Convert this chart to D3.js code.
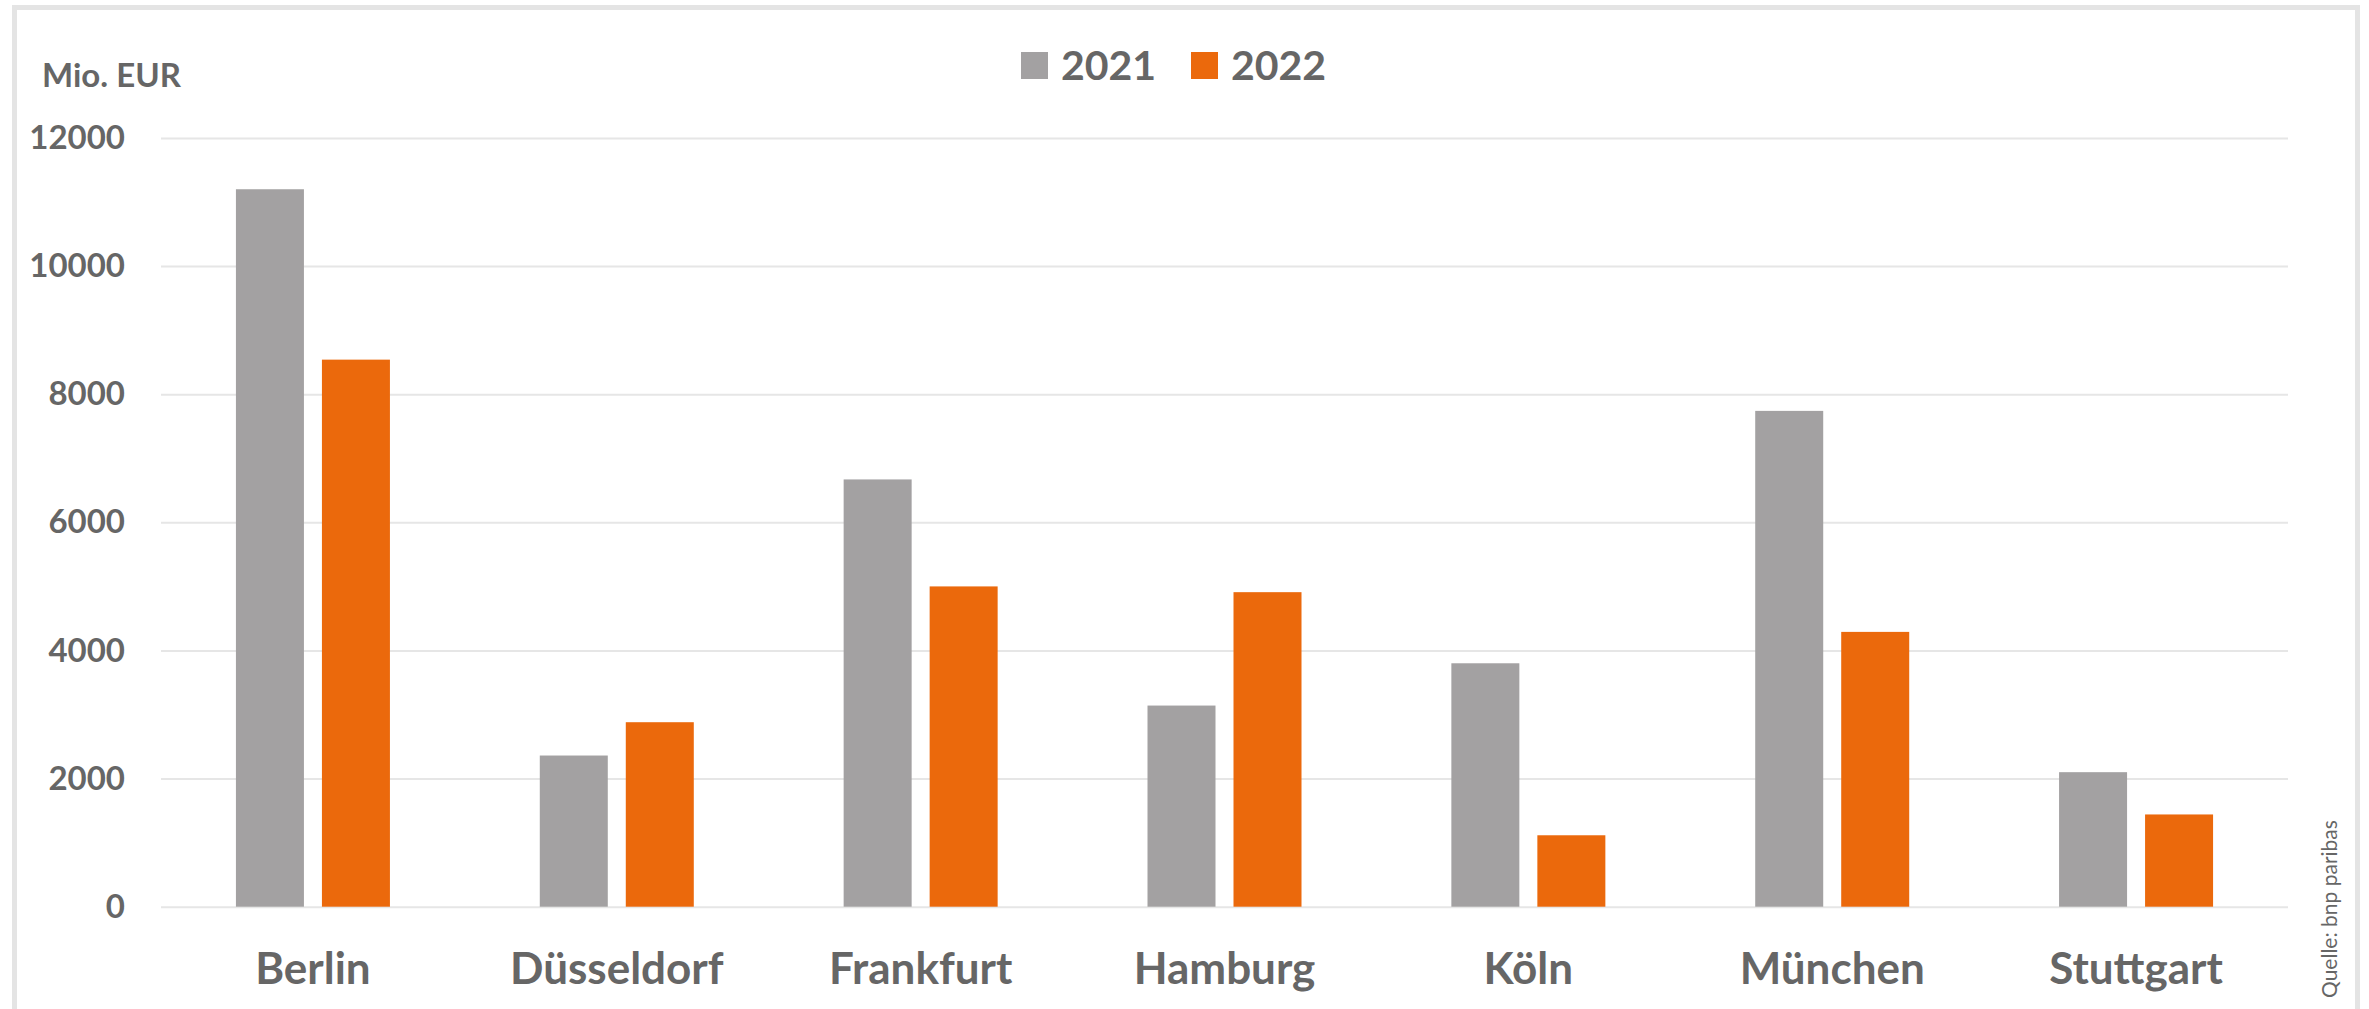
<!DOCTYPE html>
<html>
<head>
<meta charset="utf-8">
<script src="https://cdn.jsdelivr.net/npm/d3@7"></script>
<style>
  body { margin: 0; background: #fff; }
  svg { display: block; }
  text { font-family: Lato, "Open Sans", sans-serif; fill: #666666; }
</style>
</head>
<body>
<svg id="chart" width="2369" height="1009"></svg>
<script>
// data
const categories = ["Berlin", "Düsseldorf", "Frankfurt", "Hamburg", "Köln", "München", "Stuttgart"];
const seriesNames = ["2021", "2022"];
const values2021 = [11200, 2360, 6670, 3140, 3800, 7740, 2100];
const values2022 = [8540, 2880, 5000, 4910, 1115, 4290, 1440];
const yTicks = [0, 2000, 4000, 6000, 8000, 10000, 12000];
const colors = ["#a3a1a2", "#eb690c"];

const plotLeft = 161, plotRight = 2288, plotTop = 138, plotBottom = 906.7;

const svg = d3.select("#chart");

// outer frame
svg.append("rect")
    .attr("x", 14.5).attr("y", 7.5)
    .attr("width", 2343).attr("height", 1100)
    .attr("fill", "none")
    .attr("stroke", "#e4e4e4")
    .attr("stroke-width", 5);

const x = d3.scaleBand().domain(categories).range([plotLeft, plotRight]);
const groupW = 154;
const xs = d3.scaleBand().domain(seriesNames).range([0, groupW]).paddingInner(18 / 86);
const y = d3.scaleLinear().domain([0, 12000]).range([plotBottom, plotTop]);

// grid
const yAxis = svg.append("g")
    .attr("transform", `translate(${plotLeft},0)`)
    .call(d3.axisLeft(y).tickValues(yTicks).tickFormat(d3.format("d"))
        .tickSize(-(plotRight - plotLeft)).tickPadding(36));
yAxis.select(".domain").remove();
yAxis.selectAll(".tick line").attr("stroke", "#e6e6e6").attr("stroke-width", 2);
yAxis.selectAll(".tick text")
    .attr("font-size", 33)
    .attr("font-weight", "bold")
    .attr("fill", "#666666")
    .style("font-family", "Lato, sans-serif");

// bars
const rows = categories.map((c, i) => ({ cat: c, vals: [values2021[i], values2022[i]] }));
const groups = svg.append("g").selectAll("g")
    .data(rows)
    .join("g")
    .attr("transform", d => `translate(${x(d.cat) + (x.bandwidth() - groupW) / 2},0)`);

groups.selectAll("rect")
    .data(d => d.vals.map((v, j) => ({ name: seriesNames[j], v, j })))
    .join("rect")
    .attr("x", d => xs(d.name))
    .attr("width", xs.bandwidth())
    .attr("y", d => y(d.v))
    .attr("height", d => plotBottom - y(d.v))
    .attr("fill", d => colors[d.j]);

// category labels
svg.append("g").selectAll("text")
    .data(categories)
    .join("text")
    .attr("x", d => x(d) + x.bandwidth() / 2)
    .attr("y", 984)
    .attr("text-anchor", "middle")
    .attr("font-size", 44)
    .attr("font-weight", "bold")
    .text(d => d);

// unit label
svg.append("text")
    .attr("x", 42).attr("y", 86.5)
    .attr("font-size", 33)
    .attr("font-weight", "bold")
    .text("Mio. EUR");

// legend
const legendX = [1021, 1191];
const legend = svg.append("g").selectAll("g")
    .data(seriesNames)
    .join("g")
    .attr("transform", (d, i) => `translate(${legendX[i]},52)`);
legend.append("rect")
    .attr("width", 27).attr("height", 27)
    .attr("fill", (d, i) => colors[i]);
legend.append("text")
    .attr("x", 40).attr("y", 28)
    .attr("font-size", 41)
    .attr("font-weight", "bold")
    .text(d => d);

// source
svg.append("text")
    .attr("transform", "translate(2337,998) rotate(-90)")
    .attr("font-size", 21)
    .text("Quelle: bnp paribas");
</script>
</body>
</html>
